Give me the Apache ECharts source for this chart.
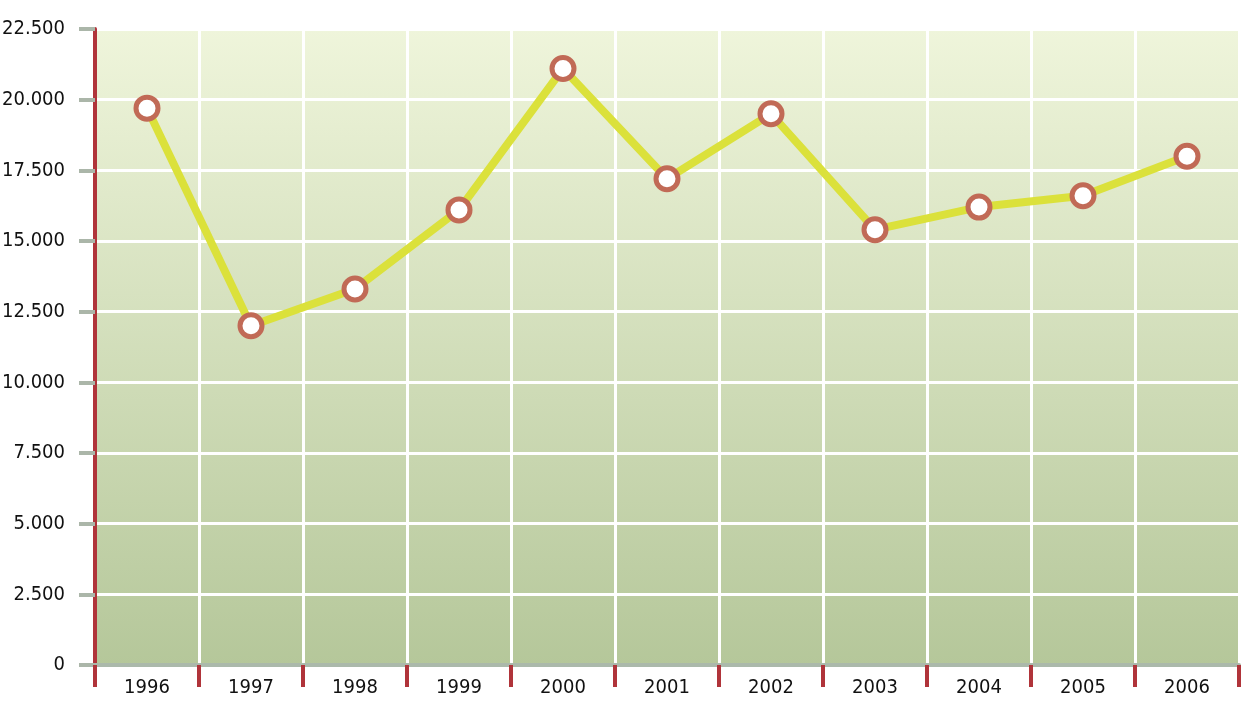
<!DOCTYPE html>
<html>
<head>
<meta charset="utf-8">
<script src="https://cdn.jsdelivr.net/npm/echarts@6/dist/echarts.min.js"></script>
<style>
  html, body { margin: 0; padding: 0; background: #fff; }
  #chart { width: 1245px; height: 702px; }
</style>
</head>
<body>
<div id="chart"></div>
<script>
// values
const years = ["1996", "1997", "1998", "1999", "2000", "2001", "2002", "2003", "2004", "2005", "2006"];
const values = [19700, 12000, 13300, 16100, 21100, 17200, 19500, 15400, 16200, 16600, 18000];
const yMin = 0;
const yMax = 22500;
const yStep = 2500;

const font = '"Liberation Sans Narrow", "DejaVu Sans Condensed", sans-serif';

const chart = echarts.init(document.getElementById("chart"));

const option = {
  animation: false,
  grid: {
    left: 95,
    right: 6,
    top: 29,
    bottom: 37,
    outerBoundsMode: "none",
    containLabel: false,
    show: true,
    borderWidth: 0,
    backgroundColor: new echarts.graphic.LinearGradient(0, 0, 0, 1, [
      { offset: 0, color: "#eff5db" },
      { offset: 1, color: "#b5c79a" },
    ]),
  },
  xAxis: {
    type: "category",
    data: years,
    boundaryGap: true,
    axisLine: { show: true, lineStyle: { color: "#abb9ab", width: 4 } },
    axisTick: {
      show: true,
      interval: 0,
      length: 22,
      lineStyle: { color: "#b0343a", width: 4 },
    },
    axisLabel: {
      interval: 0,
      margin: 13,
      color: "#111",
      fontSize: 20,
      fontFamily: font,
    },
    splitLine: { show: true, interval: 0, lineStyle: { color: "#ffffff", width: 3 } },
  },
  yAxis: {
    type: "value",
    min: yMin,
    max: yMax,
    interval: yStep,
    axisLine: { show: true, lineStyle: { color: "#b0343a", width: 4 } },
    axisTick: { show: true, length: 16, lineStyle: { color: "#abb6a9", width: 4 } },
    axisLabel: {
      margin: 30,
      color: "#111",
      fontSize: 20,
      fontFamily: font,
      formatter: (v) => v === 0 ? "0" : (v / 1000).toFixed(3),
    },
    splitLine: { show: true, lineStyle: { color: "#ffffff", width: 3 } },
  },
  series: [
    {
      type: "line",
      data: values,
      symbol: "circle",
      symbolSize: 22,
      lineStyle: { color: "#dbe13b", width: 8 },
      itemStyle: { color: "#ffffff", borderColor: "#c16a56", borderWidth: 5 },
      z: 5,
    },
  ],
};

chart.setOption(option);
</script>
</body>
</html>
